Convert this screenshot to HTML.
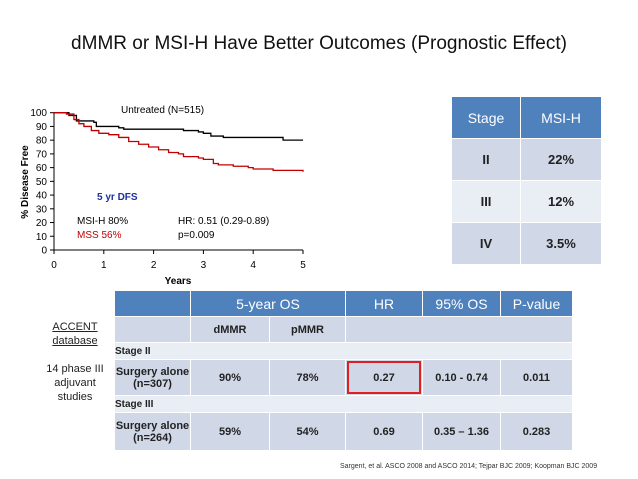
<!DOCTYPE html>
<html><head><meta charset="utf-8"><style>
body{margin:0;width:638px;height:479px;background:#fff;font-family:"Liberation Sans",sans-serif;overflow:hidden;position:relative}
.t{position:absolute}
table{border-collapse:collapse;position:absolute}
td{border:1px solid #fff;text-align:center;font-weight:bold;padding:0;font-size:11px;color:#222}
.h td{background:#4f81bd;color:#fff;font-size:14px;font-weight:normal}
</style></head><body>
<div class="t" style="left:0;width:638px;top:33px;text-align:center;font-size:19px;color:#111">dMMR or MSI-H Have Better Outcomes (Prognostic Effect)</div>
<svg class="t" style="left:0;top:90px" width="330" height="200" id="chart"></svg>
<script>
const blackT=[0,0.2,0.3,0.45,0.8,0.85,1.3,1.4,2.6,2.9,3.0,3.15,3.4,4.6,5];
const blackS=[100,100,98,94,93,90,89,88,87,86,85,83,82,80,80];
const redT=[0,0.25,0.4,0.5,0.6,0.75,0.9,1.1,1.3,1.5,1.7,1.9,2.1,2.3,2.5,2.6,2.9,3.0,3.2,3.3,3.6,3.9,4.0,4.4,5];
const redS=[100,99,95,92,90,87,85,84,82,79,77,75,73,71,70,68,67,66,63,62,61,60,59,58,57];
const yTicks=[0,10,20,30,40,50,60,70,80,90,100];
const xTicks=[0,1,2,3,4,5];
const svg=document.getElementById('chart');const NS='http://www.w3.org/2000/svg';
const X=t=>54+t*49.8, Y=v=>160-v*1.373;
function mk(tag,a){const e=document.createElementNS(NS,tag);for(const k in a)e.setAttribute(k,a[k]);svg.appendChild(e);return e;}
let ax=mk('path',{d:`M${X(0)} ${Y(100)}V${Y(0)}H${X(5)}`,stroke:'#000',fill:'none'});


yTicks.forEach(v=>{mk('line',{x1:X(0)-4,x2:X(0),y1:Y(v),y2:Y(v),stroke:'#000'});const t=mk('text',{x:X(0)-7,y:Y(v)+3.5,'font-size':10,'text-anchor':'end'});t.textContent=v;

});
xTicks.forEach(v=>{mk('line',{x1:X(v),x2:X(v),y1:Y(0),y2:Y(0)+4,stroke:'#000'});const t=mk('text',{x:X(v),y:Y(0)+18,'font-size':10,'text-anchor':'middle'});t.textContent=v;

});
function step(T,S,c,n){let d=`M${X(T[0])} ${Y(S[0])}`;for(let i=1;i<T.length;i++)d+=`H${X(T[i])}V${Y(S[i])}`;const p=mk('path',{d,stroke:c,fill:'none','stroke-width':1.3});

}
step(blackT,blackS,'#000','msi-h-curve');step(redT,redS,'#c00000','mss-curve');
function tx(x,y,s,a){const t=mk('text',Object.assign({x,y,'font-size':10},a||{}));t.textContent=s;return t;}
let e;
e=tx(178,194,'Years',{'font-weight':'bold','text-anchor':'middle'});
e=tx(0,0,'% Disease Free',{'font-weight':'bold','text-anchor':'middle',transform:'translate(28,92) rotate(-90)'});
e=tx(121,23,'Untreated (N=515)');
e=tx(97,110,'5 yr DFS',{fill:'#1f2f9f','font-weight':'bold'});
e=tx(77,134,'MSI-H 80%');
e=tx(77,148,'MSS  56%',{fill:'#c00000'});
e=tx(178,134,'HR: 0.51 (0.29-0.89)');
e=tx(178,148,'p=0.009');
</script>
<table style="left:451px;top:96px;width:151px">
<tr class="h" style="height:42px"><td style="width:68px">Stage</td><td>MSI-H</td></tr>
<tr style="height:42px;background:#d0d8e8"><td style="font-size:13px">II</td><td style="font-size:13px">22%</td></tr>
<tr style="height:42px;background:#e9edf4"><td style="font-size:13px">III</td><td style="font-size:13px">12%</td></tr>
<tr style="height:42px;background:#d0d8e8"><td style="font-size:13px">IV</td><td style="font-size:13px">3.5%</td></tr>
</table>
<div class="t" style="left:40px;top:320px;width:70px;text-align:center;font-size:11px;line-height:14px;color:#222"><u>ACCENT<br>database</u><br><br>14 phase III adjuvant studies</div>
<table style="left:114px;top:290px;width:459px">
<tr class="h" style="height:26px"><td style="width:75px"></td><td colspan="2">5-year OS</td><td style="width:76px">HR</td><td style="width:77px">95% OS</td><td>P-value</td></tr>
<tr style="height:26px;background:#d0d8e8"><td></td><td style="width:78px">dMMR</td><td style="width:75px">pMMR</td><td colspan="3"></td></tr>
<tr style="height:17px;background:#e9edf4"><td colspan="6" style="text-align:left;font-size:10px">Stage II</td></tr>
<tr style="height:36px;background:#d0d8e8"><td>Surgery alone<br>(n=307)</td><td>90%</td><td>78%</td><td style="position:relative">0.27<div style="position:absolute;left:1px;top:1px;right:1px;bottom:1px;border:2.5px solid #e02020"></div></td><td>0.10 - 0.74</td><td>0.011</td></tr>
<tr style="height:17px;background:#e9edf4"><td colspan="6" style="text-align:left;font-size:10px">Stage III</td></tr>
<tr style="height:38px;background:#d0d8e8"><td>Surgery alone<br>(n=264)</td><td>59%</td><td>54%</td><td>0.69</td><td>0.35 – 1.36</td><td>0.283</td></tr>
</table>
<div class="t" style="left:340px;top:463px;font-size:7px;color:#333">Sargent, et al. ASCO 2008 and ASCO 2014; Tejpar BJC 2009;  Koopman BJC 2009</div>
</body></html>
